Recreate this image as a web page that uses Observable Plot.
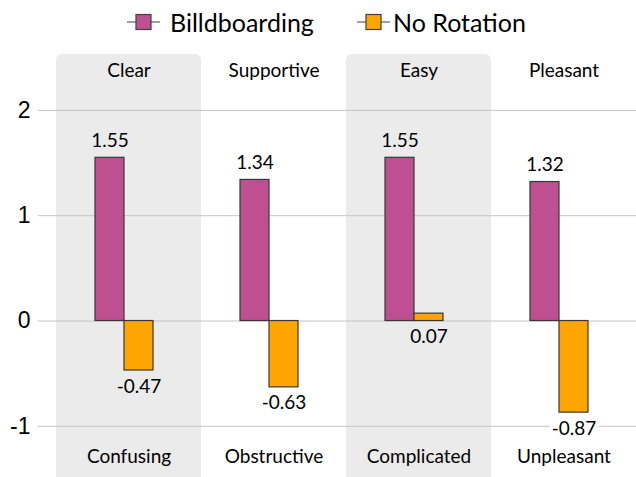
<!DOCTYPE html>
<html>
<head>
<meta charset="utf-8">
<script src="https://cdn.jsdelivr.net/npm/d3@7"></script>
<script src="https://cdn.jsdelivr.net/npm/@observablehq/plot@0.6"></script>
<style>
  html, body { margin: 0; padding: 0; background: white; }
  #wrap { width: 636px; height: 477px; position: relative; overflow: hidden; }
  #legend { position: relative; height: 54px; font-family: Lato, sans-serif; font-size: 25px; color: #000; }
  .item { position: absolute; top: 7px; display: flex; align-items: center; white-space: nowrap; }
</style>
</head>
<body>
<div id="wrap">
  <div id="legend"></div>
  <div id="chart"></div>
</div>
<script>
// ---- data ----
const categories = ["Clear", "Supportive", "Easy", "Pleasant"];
const opposites = ["Confusing", "Obstructive", "Complicated", "Unpleasant"];
const shaded = ["Clear", "Easy"];
const series = ["Billdboarding", "No Rotation"];
const billboarding = [1.55, 1.34, 1.55, 1.32];
const noRotation = [-0.47, -0.63, 0.07, -0.87];
const colors = ["#be4f91", "#ffa500"];
const yTicks = [-1, 0, 1, 2];

// ---- layout constants ----
const yTop = 2.531, yBottom = -1.486;
const panelFill = "#ebebeb";
const gridColor = "#c4c4c4";

const rows = categories.flatMap((c, i) => [
  {cat: c, series: series[0], value: billboarding[i]},
  {cat: c, series: series[1], value: noRotation[i]}
]);
const colorOf = d => colors[series.indexOf(d.series)];
const haloOf = d => shaded.includes(d.cat) ? panelFill : "white";
const labelRows = categories.map((c, i) => ({cat: c, high: c, low: opposites[i]}));

// ---- legend ----
const legend = document.getElementById("legend");
const legendLeft = [127, 357];
const legendGap = [10, 3];
series.forEach((s, i) => {
  const item = document.createElement("div");
  item.className = "item";
  item.style.left = legendLeft[i] + "px";
  item.innerHTML =
    `<svg width="33" height="18" style="display:block"><line x1="0" x2="33" y1="9" y2="9" stroke="#404040" stroke-width="1.2"/>` +
    `<rect x="9" y="1.5" width="15" height="15" fill="${colors[i]}" stroke="#404040" stroke-width="1.2"/></svg>` +
    `<span style="margin-left:${legendGap[i]}px">${s}</span>`;
  legend.appendChild(item);
});

// ---- chart ----
const chart = Plot.plot({
  width: 636,
  height: 423,
  marginTop: 0,
  marginBottom: 0,
  marginLeft: 55,
  marginRight: 0,
  style: {fontFamily: "Lato, sans-serif", background: "white", color: "black", overflow: "hidden"},
  fx: {domain: categories, padding: 0, axis: null},
  x: {domain: series, paddingInner: 0, paddingOuter: 1.462, align: 0.45, axis: null},
  y: {domain: [yBottom, yTop]},
  marks: [
    Plot.barY(shaded, {fx: d => d, y1: yBottom - 0.2, y2: yTop, fill: panelFill, rx: 6}),
    Plot.gridY(yTicks, {stroke: gridColor, strokeOpacity: 1, strokeWidth: 1}),
    Plot.axisY(yTicks, {
      tickSize: 18, tickPadding: 8, stroke: gridColor, strokeOpacity: 1,
      color: "black", fill: "black", fontSize: 23, fontFamily: "Liberation Sans, Arial, sans-serif",
      label: null, tickFormat: d => String(d)
    }),
    Plot.barY(rows, {fx: "cat", x: "series", y: "value", fill: colorOf, stroke: "#383838", strokeWidth: 1.2}),
    Plot.text(rows.filter(d => d.series === series[0]), {
      fx: "cat", x: "series", y: "value", text: d => d.value.toFixed(2),
      dy: -17, fontSize: 19, fill: "black", stroke: haloOf, strokeWidth: 8, paintOrder: "stroke"
    }),
    Plot.text(rows.filter(d => d.series === series[1]), {
      fx: "cat", x: "series", y: d => Math.min(d.value, 0), text: d => d.value.toFixed(2),
      dy: 16, fontSize: 19, fill: "black", stroke: haloOf, strokeWidth: 8, paintOrder: "stroke"
    }),
    Plot.text(labelRows, {fx: "cat", text: "high", frameAnchor: "top", lineAnchor: "middle", dy: 16, fontSize: 19, fill: "black"}),
    Plot.text(labelRows, {fx: "cat", text: "low", frameAnchor: "bottom", lineAnchor: "middle", dy: -21, fontSize: 19, fill: "black"})
  ]
});
document.getElementById("chart").appendChild(chart);
</script>
</body>
</html>
